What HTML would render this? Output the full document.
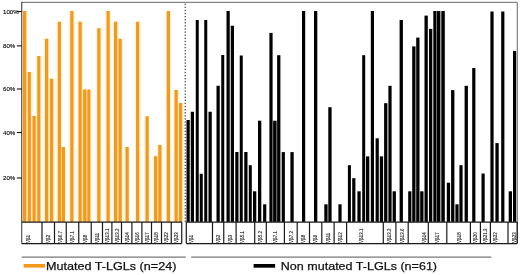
<!DOCTYPE html>
<html><head><meta charset="utf-8"><title>T-LGL chart</title>
<style>html,body{margin:0;padding:0;background:#fff}svg{display:block}</style></head>
<body>
<svg width="520" height="275" viewBox="0 0 520 275">
<rect width="520" height="275" fill="#fff"/>
<defs><filter id="bl" x="-5%" y="-5%" width="110%" height="110%"><feGaussianBlur stdDeviation="1.7 0.6"/></filter></defs>
<g fill="#FFC655" opacity="0.5" filter="url(#bl)">
<rect x="23.00" y="11.00" width="3.30" height="210.90"/>
<rect x="27.80" y="72.00" width="3.10" height="149.90"/>
<rect x="32.50" y="116.00" width="3.20" height="105.90"/>
<rect x="37.25" y="56.00" width="3.15" height="165.90"/>
<rect x="45.00" y="38.75" width="3.25" height="183.15"/>
<rect x="50.00" y="78.75" width="3.25" height="143.15"/>
<rect x="57.75" y="21.75" width="3.25" height="200.15"/>
<rect x="61.75" y="147.00" width="3.25" height="74.90"/>
<rect x="70.25" y="11.00" width="3.25" height="210.90"/>
<rect x="78.50" y="21.75" width="3.25" height="200.15"/>
<rect x="83.10" y="89.50" width="3.30" height="132.40"/>
<rect x="87.30" y="89.50" width="3.10" height="132.40"/>
<rect x="97.25" y="28.25" width="3.25" height="193.65"/>
<rect x="106.50" y="11.00" width="3.25" height="210.90"/>
<rect x="114.00" y="21.75" width="3.25" height="200.15"/>
<rect x="118.50" y="38.75" width="3.25" height="183.15"/>
<rect x="125.50" y="147.00" width="3.25" height="74.90"/>
<rect x="136.00" y="21.75" width="3.25" height="200.15"/>
<rect x="145.50" y="116.25" width="3.25" height="105.65"/>
<rect x="154.00" y="156.25" width="3.25" height="65.65"/>
<rect x="158.25" y="145.00" width="3.25" height="76.90"/>
<rect x="166.75" y="11.00" width="3.25" height="210.90"/>
<rect x="174.50" y="90.00" width="3.25" height="131.90"/>
<rect x="179.00" y="103.00" width="3.25" height="118.90"/>
</g>
<g fill="#F4991A">
<rect x="23.00" y="11.00" width="3.30" height="210.90"/>
<rect x="27.80" y="72.00" width="3.10" height="149.90"/>
<rect x="32.50" y="116.00" width="3.20" height="105.90"/>
<rect x="37.25" y="56.00" width="3.15" height="165.90"/>
<rect x="45.00" y="38.75" width="3.25" height="183.15"/>
<rect x="50.00" y="78.75" width="3.25" height="143.15"/>
<rect x="57.75" y="21.75" width="3.25" height="200.15"/>
<rect x="61.75" y="147.00" width="3.25" height="74.90"/>
<rect x="70.25" y="11.00" width="3.25" height="210.90"/>
<rect x="78.50" y="21.75" width="3.25" height="200.15"/>
<rect x="83.10" y="89.50" width="3.30" height="132.40"/>
<rect x="87.30" y="89.50" width="3.10" height="132.40"/>
<rect x="97.25" y="28.25" width="3.25" height="193.65"/>
<rect x="106.50" y="11.00" width="3.25" height="210.90"/>
<rect x="114.00" y="21.75" width="3.25" height="200.15"/>
<rect x="118.50" y="38.75" width="3.25" height="183.15"/>
<rect x="125.50" y="147.00" width="3.25" height="74.90"/>
<rect x="136.00" y="21.75" width="3.25" height="200.15"/>
<rect x="145.50" y="116.25" width="3.25" height="105.65"/>
<rect x="154.00" y="156.25" width="3.25" height="65.65"/>
<rect x="158.25" y="145.00" width="3.25" height="76.90"/>
<rect x="166.75" y="11.00" width="3.25" height="210.90"/>
<rect x="174.50" y="90.00" width="3.25" height="131.90"/>
<rect x="179.00" y="103.00" width="3.25" height="118.90"/>
</g>
<g fill="#000">
<rect x="186.50" y="120.00" width="3.25" height="101.90"/>
<rect x="190.75" y="111.75" width="3.25" height="110.15"/>
<rect x="195.75" y="20.00" width="3.00" height="201.90"/>
<rect x="199.75" y="173.75" width="3.00" height="48.15"/>
<rect x="204.25" y="20.00" width="3.00" height="201.90"/>
<rect x="208.50" y="111.75" width="3.25" height="110.15"/>
<rect x="216.50" y="85.75" width="3.25" height="136.15"/>
<rect x="221.25" y="55.00" width="3.00" height="166.90"/>
<rect x="226.50" y="11.00" width="3.25" height="210.90"/>
<rect x="230.75" y="25.75" width="3.25" height="196.15"/>
<rect x="235.25" y="152.00" width="3.25" height="69.90"/>
<rect x="239.75" y="55.50" width="3.00" height="166.40"/>
<rect x="244.25" y="152.00" width="3.25" height="69.90"/>
<rect x="248.80" y="165.20" width="3.00" height="56.70"/>
<rect x="253.00" y="191.30" width="3.30" height="30.60"/>
<rect x="258.00" y="120.70" width="3.30" height="101.20"/>
<rect x="263.10" y="204.30" width="3.20" height="17.60"/>
<rect x="269.40" y="32.90" width="3.20" height="189.00"/>
<rect x="273.10" y="120.70" width="3.50" height="101.20"/>
<rect x="277.10" y="55.20" width="3.30" height="166.70"/>
<rect x="281.70" y="152.10" width="3.20" height="69.80"/>
<rect x="290.40" y="152.10" width="3.30" height="69.80"/>
<rect x="302.00" y="11.00" width="3.20" height="210.90"/>
<rect x="314.00" y="11.00" width="3.30" height="210.90"/>
<rect x="324.30" y="204.30" width="3.30" height="17.60"/>
<rect x="328.30" y="107.20" width="3.30" height="114.70"/>
<rect x="338.40" y="204.30" width="3.20" height="17.60"/>
<rect x="347.90" y="165.20" width="3.00" height="56.70"/>
<rect x="352.20" y="178.20" width="3.20" height="43.70"/>
<rect x="357.40" y="191.30" width="3.30" height="30.60"/>
<rect x="362.20" y="55.20" width="3.00" height="166.70"/>
<rect x="366.00" y="156.40" width="3.30" height="65.50"/>
<rect x="370.80" y="11.00" width="3.20" height="210.90"/>
<rect x="375.60" y="138.30" width="3.20" height="83.60"/>
<rect x="379.80" y="156.40" width="3.30" height="65.50"/>
<rect x="384.10" y="103.20" width="3.30" height="118.70"/>
<rect x="388.40" y="85.80" width="3.20" height="136.10"/>
<rect x="392.60" y="191.30" width="3.30" height="30.60"/>
<rect x="399.60" y="20.00" width="3.30" height="201.90"/>
<rect x="408.20" y="191.30" width="3.20" height="30.60"/>
<rect x="412.20" y="46.40" width="3.30" height="175.50"/>
<rect x="416.20" y="37.60" width="3.30" height="184.30"/>
<rect x="420.20" y="191.30" width="3.30" height="30.60"/>
<rect x="424.50" y="15.60" width="3.30" height="206.30"/>
<rect x="429.00" y="28.90" width="3.30" height="193.00"/>
<rect x="433.30" y="11.00" width="3.20" height="210.90"/>
<rect x="436.90" y="11.00" width="3.50" height="210.90"/>
<rect x="441.30" y="11.00" width="3.50" height="210.90"/>
<rect x="446.80" y="182.70" width="3.30" height="39.20"/>
<rect x="451.10" y="90.10" width="3.30" height="131.80"/>
<rect x="455.40" y="204.30" width="3.20" height="17.60"/>
<rect x="459.40" y="165.20" width="3.20" height="56.70"/>
<rect x="464.60" y="85.80" width="3.30" height="136.10"/>
<rect x="472.20" y="68.00" width="3.20" height="153.90"/>
<rect x="481.50" y="173.50" width="3.20" height="48.40"/>
<rect x="490.40" y="11.50" width="3.20" height="210.40"/>
<rect x="495.40" y="143.10" width="3.30" height="78.80"/>
<rect x="501.20" y="11.50" width="3.20" height="210.40"/>
<rect x="508.70" y="191.30" width="3.30" height="30.60"/>
<rect x="513.00" y="50.90" width="3.20" height="171.00"/>
</g>
<path d="M21.75 2.3 H517.25 V243.60" fill="none" stroke="#666" stroke-width="1"/>
<path d="M21.75 1.8 V243.60" fill="none" stroke="#333" stroke-width="1"/>
<path d="M185.2 3.6 V221.90" fill="none" stroke="#111" stroke-width="1" stroke-dasharray="1.3 1.8"/>
<g font-family="'Liberation Sans', Arial, sans-serif" font-size="6.1" fill="#000" stroke="#000" stroke-width="0.12" opacity="0.999">
<text x="3.1" y="13.50">100%</text>
<text x="3.1" y="47.90">80%</text>
<text x="3.1" y="91.00">60%</text>
<text x="3.1" y="134.50">40%</text>
<text x="3.1" y="180.00">20%</text>
</g>
<g stroke="#111" stroke-width="1.1">
<line x1="16.9" x2="21.75" y1="11.50" y2="11.50"/>
<line x1="16.9" x2="21.75" y1="45.90" y2="45.90"/>
<line x1="16.9" x2="21.75" y1="89.00" y2="89.00"/>
<line x1="16.9" x2="21.75" y1="132.50" y2="132.50"/>
<line x1="16.9" x2="21.75" y1="178.00" y2="178.00"/>
</g>
<g stroke="#1a1a1a" stroke-width="1.2" fill="none">
<path d="M21.75 222.10 H181.75 M21.75 243.60 H181.75"/>
<path d="M186.30 222.10 H517.20 M186.30 243.60 H517.20"/>
<line x1="42.00" x2="42.00" y1="221.90" y2="243.60"/>
<line x1="54.50" x2="54.50" y1="221.90" y2="243.60"/>
<line x1="66.25" x2="66.25" y1="221.90" y2="243.60"/>
<line x1="78.75" x2="78.75" y1="221.90" y2="243.60"/>
<line x1="91.25" x2="91.25" y1="221.90" y2="243.60"/>
<line x1="102.50" x2="102.50" y1="221.90" y2="243.60"/>
<line x1="111.90" x2="111.90" y1="221.90" y2="243.60"/>
<line x1="121.50" x2="121.50" y1="221.90" y2="243.60"/>
<line x1="131.90" x2="131.90" y1="221.90" y2="243.60"/>
<line x1="141.90" x2="141.90" y1="221.90" y2="243.60"/>
<line x1="151.50" x2="151.50" y1="221.90" y2="243.60"/>
<line x1="161.50" x2="161.50" y1="221.90" y2="243.60"/>
<line x1="171.25" x2="171.25" y1="221.90" y2="243.60"/>
<line x1="181.75" x2="181.75" y1="221.90" y2="243.60"/>
<line x1="186.30" x2="186.30" y1="221.90" y2="243.60"/>
<line x1="212.50" x2="212.50" y1="221.90" y2="243.60"/>
<line x1="223.75" x2="223.75" y1="221.90" y2="243.60"/>
<line x1="236.10" x2="236.10" y1="221.90" y2="243.60"/>
<line x1="254.70" x2="254.70" y1="221.90" y2="243.60"/>
<line x1="266.30" x2="266.30" y1="221.90" y2="243.60"/>
<line x1="284.40" x2="284.40" y1="221.90" y2="243.60"/>
<line x1="297.20" x2="297.20" y1="221.90" y2="243.60"/>
<line x1="309.50" x2="309.50" y1="221.90" y2="243.60"/>
<line x1="321.80" x2="321.80" y1="221.90" y2="243.60"/>
<line x1="334.10" x2="334.10" y1="221.90" y2="243.60"/>
<line x1="346.60" x2="346.60" y1="221.90" y2="243.60"/>
<line x1="383.30" x2="383.30" y1="221.90" y2="243.60"/>
<line x1="395.90" x2="395.90" y1="221.90" y2="243.60"/>
<line x1="408.20" x2="408.20" y1="221.90" y2="243.60"/>
<line x1="428.30" x2="428.30" y1="221.90" y2="243.60"/>
<line x1="446.80" x2="446.80" y1="221.90" y2="243.60"/>
<line x1="470.40" x2="470.40" y1="221.90" y2="243.60"/>
<line x1="480.40" x2="480.40" y1="221.90" y2="243.60"/>
<line x1="490.40" x2="490.40" y1="221.90" y2="243.60"/>
<line x1="508.00" x2="508.00" y1="221.90" y2="243.60"/>
<line x1="517.20" x2="517.20" y1="221.90" y2="243.60"/>
</g>
<g font-family="'Liberation Sans', 'DejaVu Sans', sans-serif" font-size="45" fill="#222" stroke="#222" stroke-width="1.2" opacity="0.999">
<text transform="translate(29.50 242.9) rotate(-90) scale(0.1)">Vβ1</text>
<text transform="translate(50.05 242.9) rotate(-90) scale(0.1)">Vβ2</text>
<text transform="translate(62.17 242.9) rotate(-90) scale(0.1)">Vβ6.7</text>
<text transform="translate(74.30 242.9) rotate(-90) scale(0.1)">Vβ7.1</text>
<text transform="translate(86.80 242.9) rotate(-90) scale(0.1)">Vβ8</text>
<text transform="translate(98.67 242.9) rotate(-90) scale(0.1)">Vβ11</text>
<text transform="translate(109.00 242.9) rotate(-90) scale(0.1)">Vβ13.1</text>
<text transform="translate(118.50 242.9) rotate(-90) scale(0.1)">Vβ13.2</text>
<text transform="translate(128.50 242.9) rotate(-90) scale(0.1)">Vβ14</text>
<text transform="translate(138.70 242.9) rotate(-90) scale(0.1)">Vβ16</text>
<text transform="translate(148.50 242.9) rotate(-90) scale(0.1)">Vβ17</text>
<text transform="translate(158.30 242.9) rotate(-90) scale(0.1)">Vβ18</text>
<text transform="translate(168.18 242.9) rotate(-90) scale(0.1)">Vβ22</text>
<text transform="translate(178.30 242.9) rotate(-90) scale(0.1)">Vβ23</text>
<text transform="translate(192.90 242.9) rotate(-90) scale(0.1)">Vβ1</text>
<text transform="translate(219.93 242.9) rotate(-90) scale(0.1)">Vβ2</text>
<text transform="translate(231.73 242.9) rotate(-90) scale(0.1)">Vβ3</text>
<text transform="translate(243.90 242.9) rotate(-90) scale(0.1)">Vβ5.1</text>
<text transform="translate(262.30 242.9) rotate(-90) scale(0.1)">Vβ5.2</text>
<text transform="translate(277.15 242.9) rotate(-90) scale(0.1)">Vβ7.1</text>
<text transform="translate(292.60 242.9) rotate(-90) scale(0.1)">Vβ7.2</text>
<text transform="translate(305.15 242.9) rotate(-90) scale(0.1)">Vβ8</text>
<text transform="translate(317.45 242.9) rotate(-90) scale(0.1)">Vβ9</text>
<text transform="translate(329.75 242.9) rotate(-90) scale(0.1)">Vβ11</text>
<text transform="translate(342.15 242.9) rotate(-90) scale(0.1)">Vβ12</text>
<text transform="translate(362.80 242.9) rotate(-90) scale(0.1)">Vβ13.1</text>
<text transform="translate(391.40 242.9) rotate(-90) scale(0.1)">Vβ13.2</text>
<text transform="translate(403.85 242.9) rotate(-90) scale(0.1)">Vβ13.6</text>
<text transform="translate(425.80 242.9) rotate(-90) scale(0.1)">Vβ14</text>
<text transform="translate(439.35 242.9) rotate(-90) scale(0.1)">Vβ17</text>
<text transform="translate(461.00 242.9) rotate(-90) scale(0.1)">Vβ18</text>
<text transform="translate(477.20 242.9) rotate(-90) scale(0.1)">Vβ20</text>
<text transform="translate(487.20 242.9) rotate(-90) scale(0.1)">Vβ21.3</text>
<text transform="translate(496.70 242.9) rotate(-90) scale(0.1)">Vβ22</text>
<text transform="translate(515.70 242.9) rotate(-90) scale(0.1)">Vβ23</text>
</g>
<g stroke="#777" stroke-width="1.3"><line x1="21.75" x2="185.7" y1="257.1" y2="257.1"/><line x1="191.2" x2="491.3" y1="257.1" y2="257.1"/></g>
<rect x="23.6" y="264.0" width="21.4" height="3.6" fill="#F4991A"/>
<rect x="253.6" y="264.0" width="21.5" height="3.7" fill="#000"/>
<g font-family="'Liberation Sans', Arial, sans-serif" font-size="11.6" fill="#111" stroke="#111" stroke-width="0.25" opacity="0.999">
<text x="46" y="270.4" textLength="130.4" lengthAdjust="spacingAndGlyphs">Mutated T-LGLs (n=24)</text>
<text x="280.75" y="270.4" textLength="156.3" lengthAdjust="spacingAndGlyphs">Non mutated T-LGLs (n=61)</text>
</g>
</svg>
</body></html>
